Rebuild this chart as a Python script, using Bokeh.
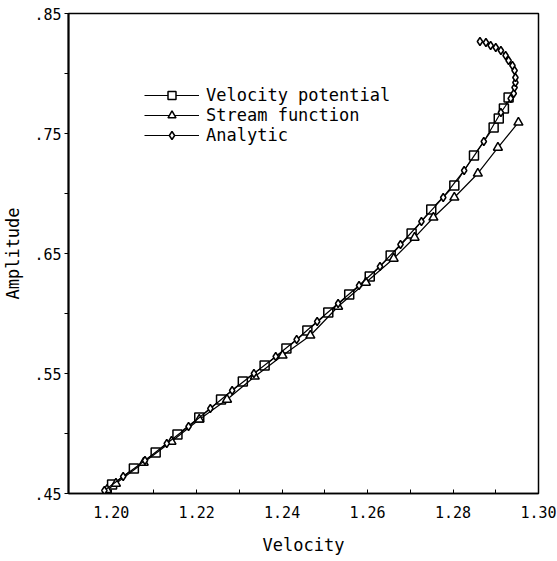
from bokeh.plotting import figure
from bokeh.models import Range1d, FixedTicker, Legend, LegendItem
from bokeh.embed import file_html
from bokeh.resources import INLINE

# Velocity potential (squares)
vp_vel = [1.2002, 1.2053, 1.2104, 1.2155, 1.2206, 1.2257, 1.2308, 1.2359, 1.2410, 1.2459, 1.2508,
          1.2557, 1.2605, 1.2654, 1.2703, 1.2749, 1.2803, 1.2849, 1.2895, 1.2907, 1.2919, 1.2930]
vp_amp = [0.4575, 0.4708, 0.4842, 0.4992, 0.5133, 0.5283, 0.5433, 0.5567, 0.5708, 0.5858, 0.6008,
          0.6158, 0.6308, 0.6483, 0.6667, 0.6867, 0.7067, 0.7317, 0.7550, 0.7625, 0.7708, 0.7800]

# Stream function (triangles)
sf_vel = [1.1990, 1.2011, 1.2076, 1.2141, 1.2206, 1.2271, 1.2336, 1.2401, 1.2466, 1.2531, 1.2596,
          1.2661, 1.2710, 1.2754, 1.2803, 1.2858, 1.2905, 1.2953]
sf_amp = [0.4530, 0.4583, 0.4758, 0.4933, 0.5117, 0.5283, 0.5475, 0.5650, 0.5817, 0.6058, 0.6258,
          0.6458, 0.6633, 0.6800, 0.6967, 0.7167, 0.7383, 0.7592]

# Analytic (diamonds)
an_vel = [1.1984, 1.2028, 1.2079, 1.2130, 1.2181, 1.2232, 1.2283, 1.2334, 1.2385, 1.2434, 1.2482,
          1.2531, 1.2580, 1.2629, 1.2677, 1.2726, 1.2777, 1.2826, 1.2872, 1.2912, 1.2935, 1.2942,
          1.2944, 1.2946, 1.2946, 1.2944, 1.2939, 1.2930, 1.2923, 1.2912, 1.2900, 1.2888, 1.2877, 1.2863]
an_amp = [0.4525, 0.4642, 0.4775, 0.4917, 0.5058, 0.5208, 0.5358, 0.5500, 0.5642, 0.5783, 0.5933,
          0.6083, 0.6233, 0.6392, 0.6575, 0.6767, 0.6967, 0.7192, 0.7433, 0.7675, 0.7792, 0.7833,
          0.7883, 0.7925, 0.7967, 0.8025, 0.8067, 0.8108, 0.8150, 0.8192, 0.8217, 0.8233, 0.8258, 0.8267]

x_ticks = [1.19, 1.20, 1.21, 1.22, 1.23, 1.24, 1.25, 1.26, 1.27, 1.28, 1.29, 1.30]
x_labels = ["", "1.20", "", "1.22", "", "1.24", "", "1.26", "", "1.28", "", "1.30"]
y_ticks = [0.45, 0.50, 0.55, 0.60, 0.65, 0.70, 0.75, 0.80, 0.85]
y_labels = [".45", "", ".55", "", ".65", "", ".75", "", ".85"]

MONO = "DejaVu Sans Mono"

p = figure(width=557, height=561, output_backend="svg", toolbar_location=None,
           x_range=Range1d(1.19, 1.30), y_range=Range1d(0.45, 0.85),
           min_border_left=64, min_border_right=19, min_border_top=13, min_border_bottom=68)
p.grid.visible = False
p.background_fill_color = "white"
p.outline_line_color = "black"
p.outline_line_width = 1.5

l_vp = p.line(vp_vel, vp_amp, line_color="black", line_width=1.2)
s_vp = p.scatter(vp_vel, vp_amp, marker="square", size=9, fill_color="white",
                 line_color="black", line_width=1.5)
l_sf = p.line(sf_vel, sf_amp, line_color="black", line_width=1.2)
s_sf = p.scatter(sf_vel, sf_amp, marker="triangle", size=9, fill_color="white",
                 line_color="black", line_width=1.5)
l_an = p.line(an_vel, an_amp, line_color="black", line_width=1.2)
s_an = p.scatter(an_vel, an_amp, marker="diamond", size=8, fill_color="white",
                 line_color="black", line_width=1.5)

legend = Legend(items=[
    LegendItem(label="Velocity potential", renderers=[l_vp, s_vp]),
    LegendItem(label="Stream function", renderers=[l_sf, s_sf]),
    LegendItem(label="Analytic", renderers=[l_an, s_an]),
], location=(76, 348), padding=0, margin=0, spacing=0,
    border_line_color=None, background_fill_alpha=0,
    glyph_width=55, glyph_height=20, label_height=20, label_standoff=7,
    label_text_font=MONO, label_text_font_size="17px", label_text_color="black")
p.add_layout(legend)

xa = p.xaxis[0]
xa.ticker = FixedTicker(ticks=x_ticks)
xa.major_label_overrides = dict(zip(x_ticks, x_labels))
xa.minor_tick_line_color = None
xa.major_tick_in = 4
xa.major_tick_out = 0
xa.major_label_standoff = 12
xa.axis_line_width = 1.5
xa.axis_line_color = "black"
xa.major_tick_line_color = "black"
xa.major_label_text_color = "black"
xa.major_label_text_font = MONO
xa.major_label_text_font_size = "15px"
xa.axis_label = "Velocity"
xa.axis_label_text_color = "black"
xa.axis_label_text_font = MONO
xa.axis_label_text_font_size = "17px"
xa.axis_label_text_font_style = "normal"
xa.axis_label_standoff = 14

ya = p.yaxis[0]
ya.ticker = FixedTicker(ticks=y_ticks)
ya.major_label_overrides = dict(zip(y_ticks, y_labels))
ya.minor_tick_line_color = None
ya.major_tick_in = 0
ya.major_tick_out = 4
ya.major_label_standoff = 3
ya.axis_line_width = 2
ya.axis_line_color = "black"
ya.major_tick_line_color = "black"
ya.major_label_text_color = "black"
ya.major_label_text_font = MONO
ya.major_label_text_font_size = "15px"
ya.axis_label = "Amplitude"
ya.axis_label_text_color = "black"
ya.axis_label_text_font = MONO
ya.axis_label_text_font_size = "17px"
ya.axis_label_text_font_style = "normal"
ya.axis_label_standoff = 8

open("out.html", "w").write(file_html(p, INLINE))
